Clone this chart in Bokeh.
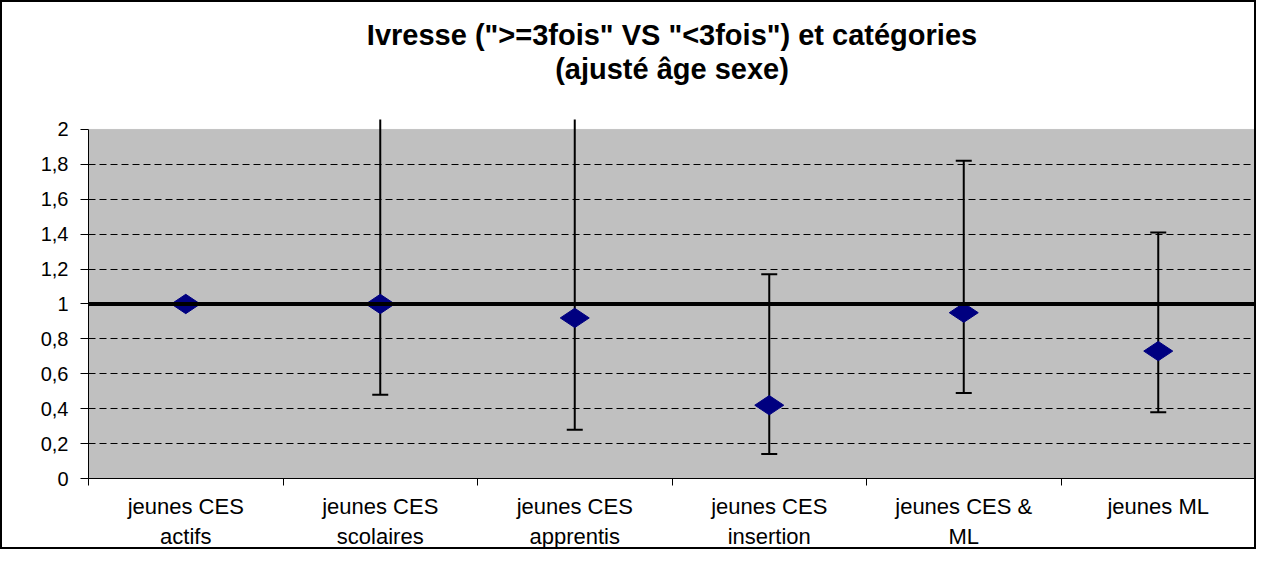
import numpy as np
from bokeh.plotting import figure
from bokeh.models import FixedTicker, Range1d, BoxAnnotation, Span, Title
from bokeh.embed import file_html
from bokeh.resources import INLINE

# ---- data ----
categories = ["jeunes CES actifs", "jeunes CES scolaires", "jeunes CES apprentis",
              "jeunes CES insertion", "jeunes CES & ML", "jeunes ML"]
tick_labels = ["jeunes CES\nactifs", "jeunes CES\nscolaires", "jeunes CES\napprentis",
               "jeunes CES\ninsertion", "jeunes CES &\nML", "jeunes ML"]
odds_ratio = [1.00, 1.00, 0.92, 0.42, 0.95, 0.73]
ci_lower = [np.nan, 0.48, 0.28, 0.14, 0.49, 0.38]
ci_upper = [np.nan, 2.10, 2.10, 1.17, 1.82, 1.41]
reference_value = 1.0
y_ticks = [0.0, 0.2, 0.4, 0.6, 0.8, 1.0, 1.2, 1.4, 1.6, 1.8, 2.0]
y_tick_labels = ["0", "0,2", "0,4", "0,6", "0,8", "1", "1,2", "1,4", "1,6", "1,8", "2"]
title_line1 = 'Ivresse (">=3fois" VS "<3fois") et catégories'
title_line2 = "(ajusté âge sexe)"

FONT = "Liberation Sans"
n = len(categories)
xpos = np.arange(n) + 0.5

p = figure(width=1256, height=549, output_backend="svg", toolbar_location=None,
           x_range=Range1d(0, n), y_range=Range1d(0, 2.057),
           min_border_left=86, min_border_right=3, min_border_top=117, min_border_bottom=73,
           background_fill_color="white", border_fill_color="white")
p.styles = {"border": "2px solid black"}
p.outline_line_color = None

# plot area (grey) bounded at 0..2
box = BoxAnnotation(bottom=y_ticks[0], top=y_ticks[-1], fill_color="#c0c0c0", fill_alpha=1.0,
                    line_color="#808080", line_width=1)
box.level = "image"
p.add_layout(box)

# grid
p.xgrid.grid_line_color = None
p.ygrid.ticker = FixedTicker(ticks=y_ticks[1:-1])
p.ygrid.grid_line_color = "black"
p.ygrid.grid_line_dash = "7 4"
p.ygrid.grid_line_width = 1
p.ygrid.level = "underlay"

# reference line
p.add_layout(Span(location=reference_value, dimension="width", line_color="black", line_width=4))

# error bars
p.segment(x0=xpos, y0=ci_lower, x1=xpos, y1=ci_upper, line_color="black", line_width=2)
p.scatter(x=xpos, y=ci_lower, marker="dash", size=16, line_color="black", line_width=2)
p.scatter(x=xpos, y=ci_upper, marker="dash", size=16, line_color="black", line_width=2)

# points
p.scatter(x=xpos, y=odds_ratio, marker="diamond", angle=np.pi / 2, size=29,
          fill_color="#000080", line_color="#000080")

# y axis
yax = p.yaxis[0]
yax.ticker = FixedTicker(ticks=y_ticks)
yax.major_label_overrides = {float(t): l for t, l in zip(y_ticks, y_tick_labels)}
yax.bounds = (y_ticks[0], y_ticks[-1])
yax.axis_line_color = "black"
yax.major_tick_out = 8
yax.major_tick_in = 0
yax.major_tick_line_color = "black"
yax.minor_tick_line_color = None
yax.major_label_text_font = FONT
yax.major_label_text_font_size = "20px"
yax.major_label_text_color = "black"
yax.major_label_standoff = 12

# x axis
xax = p.xaxis[0]
xax.ticker = FixedTicker(ticks=[float(v) for v in xpos], minor_ticks=list(range(n + 1)))
xax.major_label_overrides = {float(t): l for t, l in zip(xpos, tick_labels)}
xax.major_tick_line_color = None
xax.minor_tick_out = 7
xax.minor_tick_in = 0
xax.minor_tick_line_color = "black"
xax.axis_line_color = "black"
xax.major_label_text_font = FONT
xax.major_label_text_font_size = "22px"
xax.major_label_text_color = "black"
xax.major_label_standoff = 8

# titles (first added is nearest to plot); a blank spacer keeps them clear of the plot
p.add_layout(Title(text=" ", text_font_size="30px", standoff=0), "above")
for line in (title_line2, title_line1):
    p.add_layout(Title(text=line, align="center", text_font=FONT, text_font_size="29px",
                       text_font_style="bold", text_color="black", standoff=0), "above")

open("out.html", "w").write(file_html(p, INLINE))
